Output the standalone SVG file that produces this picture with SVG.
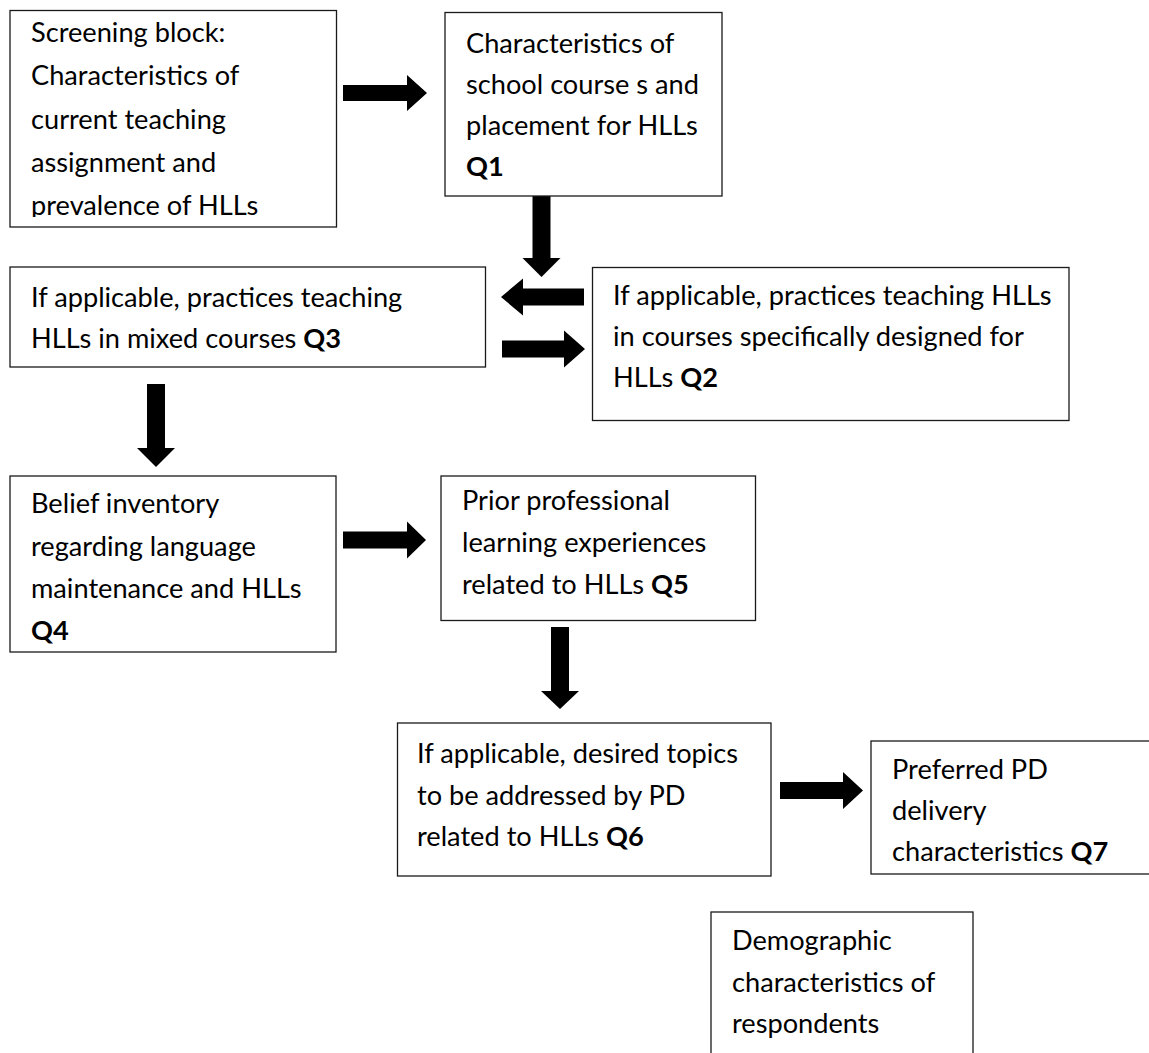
<svg xmlns="http://www.w3.org/2000/svg" width="1149" height="1053" viewBox="0 0 1149 1053">
<style>
.box{fill:#fff;stroke:#1a1a1a;stroke-width:1.3}
.t{font-family:Lato,"Open Sans","Liberation Sans",sans-serif;font-size:27.2px;fill:#000}
.b{font-weight:bold}
.arr{fill:#000}
</style>
<defs>
<clipPath id="c1"><rect x="10" y="10" width="327" height="207"/></clipPath>
</defs>
<rect width="1149" height="1053" fill="#fff"/>
<g id="connectors">
<polygon class="arr" points="343,85 407,85 407,75 427,93 407,111 407,101 343,101"/>
<polygon class="arr" points="532.5,196 550.5,196 550.5,258 560.5,258 541.5,277 522.5,258 532.5,258"/>
<polygon class="arr" points="584,288.5 523,288.5 523,278.5 501,297 523,315.5 523,305.5 584,305.5"/>
<polygon class="arr" points="502,340.5 564,340.5 564,330.5 585,349 564,367.5 564,357.5 502,357.5"/>
<polygon class="arr" points="147,384 165,384 165,448 175,448 156,467 137,448 147,448"/>
<polygon class="arr" points="343,531.5 407,531.5 407,521.5 426,540 407,558.5 407,548.5 343,548.5"/>
<polygon class="arr" points="551,627 569,627 569,691 579,691 560,709 541,691 551,691"/>
<polygon class="arr" points="780,782 843,782 843,772 863,790.5 843,809 843,799 780,799"/>
</g>
<g id="screening">
<rect class="box" x="10" y="10.5" width="326.5" height="216.5"/>
<g clip-path="url(#c1)">
<text class="t" x="31" y="42">Screening block:</text>
<text class="t" x="31" y="85">Characteristics of</text>
<text class="t" x="31" y="129">current teaching</text>
<text class="t" x="31" y="172">assignment and</text>
<text class="t" x="31" y="215">prevalence of HLLs</text>
</g>
</g>
<g id="q1">
<rect class="box" x="445" y="12.5" width="277" height="183.5"/>
<text class="t" x="466" y="53">Characteristics of</text>
<text class="t" x="466" y="94">school course s and</text>
<text class="t" x="466" y="135">placement for HLLs</text>
<text class="t b" x="466" y="176">Q1</text>
</g>
<g id="q3">
<rect class="box" x="10" y="267" width="475.5" height="100"/>
<text class="t" x="31" y="307">If applicable, practices teaching</text>
<text class="t" x="31" y="348">HLLs in mixed courses <tspan class="b">Q3</tspan></text>
</g>
<g id="q2">
<rect class="box" x="592.5" y="267.5" width="476.5" height="153"/>
<text class="t" x="613" y="305">If applicable, practices teaching HLLs</text>
<text class="t" x="613" y="346">in courses specifically designed for</text>
<text class="t" x="613" y="387">HLLs <tspan class="b">Q2</tspan></text>
</g>
<g id="q4">
<rect class="box" x="10" y="476" width="326" height="176"/>
<text class="t" x="31" y="513">Belief inventory</text>
<text class="t" x="31" y="556">regarding language</text>
<text class="t" x="31" y="598">maintenance and HLLs</text>
<text class="t b" x="31" y="640">Q4</text>
</g>
<g id="q5">
<rect class="box" x="441" y="476" width="314.5" height="144.5"/>
<text class="t" x="462" y="510">Prior professional</text>
<text class="t" x="462" y="552">learning experiences</text>
<text class="t" x="462" y="594">related to HLLs <tspan class="b">Q5</tspan></text>
</g>
<g id="q6">
<rect class="box" x="397.5" y="723" width="373.5" height="153"/>
<text class="t" x="417" y="763">If applicable, desired topics</text>
<text class="t" x="417" y="805">to be addressed by PD</text>
<text class="t" x="417" y="846">related to HLLs <tspan class="b">Q6</tspan></text>
</g>
<g id="q7">
<rect class="box" x="871" y="741" width="300" height="133"/>
<text class="t" x="892" y="779">Preferred PD</text>
<text class="t" x="892" y="820">delivery</text>
<text class="t" x="892" y="861">characteristics <tspan class="b">Q7</tspan></text>
</g>
<g id="demographic">
<rect class="box" x="711" y="912" width="262" height="160"/>
<text class="t" x="732" y="950">Demographic</text>
<text class="t" x="732" y="992">characteristics of</text>
<text class="t" x="732" y="1033">respondents</text>
</g>
</svg>
